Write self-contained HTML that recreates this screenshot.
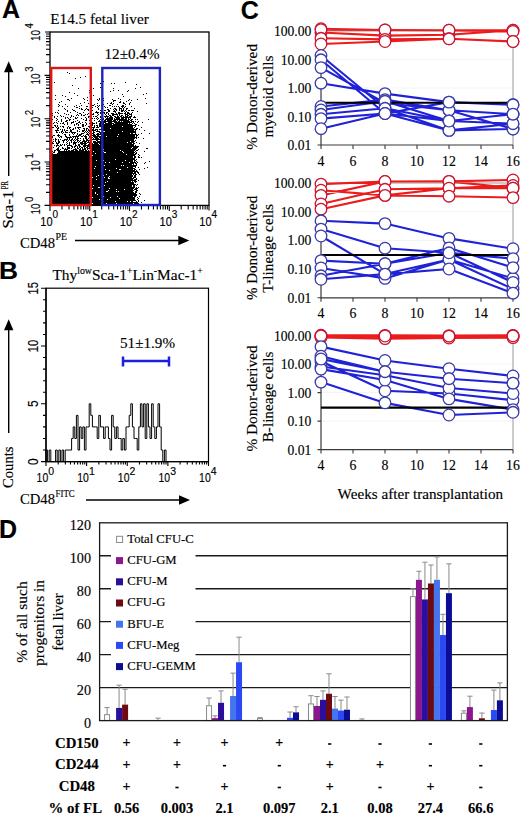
<!DOCTYPE html>
<html><head><meta charset="utf-8"><title>Figure</title>
<style>html,body{margin:0;padding:0;background:#fff;}svg{display:block;}svg text{stroke:#000;stroke-width:0.15px;}</style>
</head><body>
<svg width="520" height="814" viewBox="0 0 520 814" shape-rendering="auto">
<rect x="0" y="0" width="520" height="814" fill="#fff"/>
<text x="1.9" y="17.8" font-size="25" font-family="'Liberation Sans', sans-serif" font-weight="bold" textLength="18" lengthAdjust="spacingAndGlyphs">A</text>
<text x="-1" y="278.8" font-size="24.6" font-family="'Liberation Sans', sans-serif" font-weight="bold" textLength="19" lengthAdjust="spacingAndGlyphs">B</text>
<text x="240.7" y="18.8" font-size="25" font-family="'Liberation Sans', sans-serif" font-weight="bold">C</text>
<text x="-1" y="537.7" font-size="25" font-family="'Liberation Sans', sans-serif" font-weight="bold">D</text>
<text x="50.3" y="23.6" font-size="15.2" font-family="'Liberation Serif', serif" textLength="98.4" lengthAdjust="spacingAndGlyphs">E14.5 fetal liver</text>
<path d="M67 72h1v1h-1zM69 73h1v1h-1zM85 76h1v1h-1zM103 81h1v1h-1zM54 82h1v1h-1zM125 82h1v1h-1zM100 83h1v1h-1zM111 83h1v1h-1zM114 83h1v1h-1zM136 84h1v1h-1zM91 86h1v1h-1zM100 87h1v1h-1zM140 87h1v1h-1zM78 88h1v1h-1zM93 88h1v1h-1zM113 88h1v1h-1zM135 88h1v1h-1zM89 90h1v1h-1zM113 90h1v1h-1zM118 90h1v1h-1zM110 91h1v1h-1zM127 91h1v1h-1zM69 92h1v1h-1zM89 92h1v1h-1zM74 93h1v1h-1zM146 93h1v1h-1zM122 94h1v1h-1zM143 94h1v1h-1zM55 95h1v1h-1zM62 95h1v1h-1zM77 95h1v1h-1zM93 95h1v1h-1zM51 96h1v1h-1zM65 96h1v1h-1zM123 96h1v1h-1zM87 97h1v1h-1zM71 98h1v1h-1zM83 98h1v1h-1zM90 98h1v1h-1zM99 98h1v1h-1zM103 98h1v1h-1zM118 98h1v1h-1zM145 98h1v1h-1zM55 99h1v1h-1zM67 99h2v1h-2zM84 99h1v1h-1zM91 99h1v1h-1zM97 99h1v1h-1zM99 99h1v1h-1zM112 99h1v1h-1zM120 99h1v1h-1zM129 99h1v1h-1zM137 99h1v1h-1zM69 100h1v1h-1zM87 100h1v1h-1zM98 100h1v1h-1zM103 100h1v1h-1zM113 100h3v1h-3zM128 100h1v1h-1zM131 100h1v1h-1zM61 101h1v1h-1zM91 101h1v1h-1zM113 101h1v1h-1zM120 101h1v1h-1zM126 101h1v1h-1zM59 102h1v1h-1zM84 102h1v1h-1zM111 102h1v1h-1zM119 102h2v1h-2zM123 102h1v1h-1zM130 102h1v1h-1zM80 103h1v1h-1zM88 103h1v1h-1zM91 103h1v1h-1zM97 103h1v1h-1zM107 103h1v1h-1zM110 103h2v1h-2zM113 103h1v1h-1zM123 103h2v1h-2zM129 103h1v1h-1zM146 103h1v1h-1zM58 104h1v1h-1zM65 104h1v1h-1zM94 104h1v1h-1zM103 104h1v1h-1zM112 104h1v1h-1zM117 104h1v1h-1zM125 104h1v1h-1zM129 104h1v1h-1zM51 105h1v1h-1zM59 105h1v1h-1zM76 105h1v1h-1zM81 105h1v1h-1zM92 105h2v1h-2zM97 105h1v1h-1zM99 105h1v1h-1zM101 105h2v1h-2zM109 105h2v1h-2zM122 105h2v1h-2zM51 106h1v1h-1zM58 106h1v1h-1zM62 106h1v1h-1zM67 106h1v1h-1zM74 106h1v1h-1zM79 106h1v1h-1zM86 106h2v1h-2zM95 106h1v1h-1zM98 106h1v1h-1zM104 106h1v1h-1zM112 106h1v1h-1zM114 106h1v1h-1zM116 106h1v1h-1zM118 106h1v1h-1zM121 106h3v1h-3zM125 106h1v1h-1zM131 106h1v1h-1zM76 107h2v1h-2zM90 107h3v1h-3zM97 107h1v1h-1zM105 107h1v1h-1zM107 107h1v1h-1zM119 107h1v1h-1zM122 107h1v1h-1zM124 107h1v1h-1zM64 108h1v1h-1zM79 108h1v1h-1zM81 108h1v1h-1zM86 108h1v1h-1zM98 108h1v1h-1zM110 108h1v1h-1zM114 108h2v1h-2zM119 108h3v1h-3zM123 108h1v1h-1zM126 108h2v1h-2zM134 108h1v1h-1zM65 109h1v1h-1zM72 109h1v1h-1zM81 109h2v1h-2zM85 109h1v1h-1zM87 109h2v1h-2zM98 109h1v1h-1zM102 109h1v1h-1zM107 109h2v1h-2zM113 109h1v1h-1zM115 109h2v1h-2zM119 109h1v1h-1zM121 109h1v1h-1zM123 109h1v1h-1zM126 109h1v1h-1zM51 110h1v1h-1zM58 110h1v1h-1zM67 110h1v1h-1zM73 110h2v1h-2zM84 110h1v1h-1zM88 110h1v1h-1zM92 110h1v1h-1zM100 110h1v1h-1zM104 110h2v1h-2zM108 110h2v1h-2zM114 110h1v1h-1zM116 110h1v1h-1zM119 110h1v1h-1zM121 110h3v1h-3zM125 110h1v1h-1zM128 110h2v1h-2zM131 110h3v1h-3zM67 111h1v1h-1zM75 111h1v1h-1zM96 111h1v1h-1zM101 111h2v1h-2zM108 111h2v1h-2zM113 111h3v1h-3zM121 111h2v1h-2zM124 111h1v1h-1zM126 111h1v1h-1zM137 111h1v1h-1zM55 112h1v1h-1zM57 112h1v1h-1zM70 112h1v1h-1zM77 112h1v1h-1zM83 112h1v1h-1zM90 112h1v1h-1zM95 112h4v1h-4zM100 112h1v1h-1zM103 112h2v1h-2zM106 112h2v1h-2zM115 112h1v1h-1zM118 112h2v1h-2zM125 112h1v1h-1zM127 112h2v1h-2zM132 112h1v1h-1zM52 113h1v1h-1zM58 113h1v1h-1zM64 113h1v1h-1zM79 113h2v1h-2zM88 113h1v1h-1zM91 113h1v1h-1zM93 113h1v1h-1zM97 113h1v1h-1zM100 113h1v1h-1zM102 113h1v1h-1zM104 113h1v1h-1zM106 113h1v1h-1zM108 113h1v1h-1zM111 113h3v1h-3zM116 113h1v1h-1zM118 113h5v1h-5zM124 113h2v1h-2zM127 113h3v1h-3zM131 113h1v1h-1zM66 114h1v1h-1zM68 114h1v1h-1zM77 114h1v1h-1zM81 114h1v1h-1zM85 114h1v1h-1zM87 114h1v1h-1zM90 114h1v1h-1zM92 114h2v1h-2zM98 114h1v1h-1zM105 114h1v1h-1zM108 114h1v1h-1zM112 114h6v1h-6zM119 114h1v1h-1zM125 114h3v1h-3zM129 114h3v1h-3zM52 115h1v1h-1zM60 115h1v1h-1zM71 115h1v1h-1zM76 115h1v1h-1zM78 115h1v1h-1zM81 115h1v1h-1zM83 115h2v1h-2zM91 115h1v1h-1zM97 115h1v1h-1zM106 115h1v1h-1zM109 115h2v1h-2zM112 115h2v1h-2zM117 115h1v1h-1zM119 115h1v1h-1zM121 115h2v1h-2zM125 115h1v1h-1zM127 115h2v1h-2zM131 115h1v1h-1zM54 116h1v1h-1zM57 116h1v1h-1zM61 116h1v1h-1zM63 116h1v1h-1zM71 116h1v1h-1zM73 116h1v1h-1zM88 116h2v1h-2zM91 116h1v1h-1zM93 116h1v1h-1zM95 116h2v1h-2zM100 116h1v1h-1zM102 116h1v1h-1zM104 116h5v1h-5zM110 116h2v1h-2zM114 116h2v1h-2zM117 116h2v1h-2zM120 116h2v1h-2zM123 116h1v1h-1zM125 116h3v1h-3zM129 116h3v1h-3zM134 116h1v1h-1zM54 117h1v1h-1zM65 117h1v1h-1zM67 117h1v1h-1zM70 117h1v1h-1zM75 117h1v1h-1zM77 117h1v1h-1zM85 117h1v1h-1zM88 117h1v1h-1zM97 117h1v1h-1zM100 117h2v1h-2zM105 117h1v1h-1zM107 117h1v1h-1zM109 117h4v1h-4zM115 117h5v1h-5zM121 117h10v1h-10zM133 117h3v1h-3zM56 118h1v1h-1zM65 118h1v1h-1zM68 118h1v1h-1zM75 118h2v1h-2zM81 118h1v1h-1zM86 118h1v1h-1zM91 118h2v1h-2zM94 118h1v1h-1zM96 118h1v1h-1zM98 118h1v1h-1zM103 118h1v1h-1zM106 118h7v1h-7zM114 118h1v1h-1zM116 118h4v1h-4zM121 118h3v1h-3zM125 118h2v1h-2zM128 118h1v1h-1zM130 118h1v1h-1zM52 119h1v1h-1zM57 119h1v1h-1zM61 119h1v1h-1zM69 119h2v1h-2zM73 119h1v1h-1zM83 119h1v1h-1zM86 119h1v1h-1zM90 119h1v1h-1zM97 119h1v1h-1zM100 119h1v1h-1zM102 119h2v1h-2zM105 119h8v1h-8zM114 119h13v1h-13zM128 119h2v1h-2zM131 119h2v1h-2zM135 119h1v1h-1zM137 119h1v1h-1zM148 119h1v1h-1zM51 120h1v1h-1zM56 120h1v1h-1zM61 120h1v1h-1zM66 120h2v1h-2zM69 120h1v1h-1zM77 120h1v1h-1zM85 120h2v1h-2zM89 120h1v1h-1zM94 120h1v1h-1zM99 120h1v1h-1zM101 120h1v1h-1zM104 120h2v1h-2zM107 120h5v1h-5zM113 120h3v1h-3zM117 120h1v1h-1zM119 120h10v1h-10zM130 120h2v1h-2zM58 121h1v1h-1zM61 121h1v1h-1zM65 121h2v1h-2zM73 121h1v1h-1zM75 121h1v1h-1zM79 121h1v1h-1zM91 121h1v1h-1zM98 121h3v1h-3zM103 121h14v1h-14zM118 121h2v1h-2zM121 121h1v1h-1zM123 121h7v1h-7zM131 121h3v1h-3zM135 121h1v1h-1zM138 121h1v1h-1zM54 122h1v1h-1zM56 122h1v1h-1zM63 122h1v1h-1zM67 122h1v1h-1zM71 122h3v1h-3zM78 122h2v1h-2zM82 122h1v1h-1zM85 122h1v1h-1zM92 122h1v1h-1zM96 122h1v1h-1zM100 122h6v1h-6zM108 122h4v1h-4zM114 122h18v1h-18zM133 122h1v1h-1zM137 122h1v1h-1zM142 122h1v1h-1zM51 123h1v1h-1zM53 123h1v1h-1zM57 123h1v1h-1zM60 123h1v1h-1zM62 123h2v1h-2zM67 123h1v1h-1zM71 123h1v1h-1zM76 123h2v1h-2zM80 123h1v1h-1zM86 123h1v1h-1zM89 123h1v1h-1zM91 123h4v1h-4zM96 123h1v1h-1zM99 123h3v1h-3zM103 123h1v1h-1zM105 123h9v1h-9zM115 123h13v1h-13zM129 123h1v1h-1zM132 123h1v1h-1zM134 123h1v1h-1zM64 124h1v1h-1zM67 124h1v1h-1zM74 124h1v1h-1zM76 124h1v1h-1zM78 124h1v1h-1zM82 124h2v1h-2zM86 124h1v1h-1zM92 124h1v1h-1zM99 124h2v1h-2zM102 124h10v1h-10zM113 124h19v1h-19zM135 124h2v1h-2zM51 125h1v1h-1zM54 125h2v1h-2zM57 125h1v1h-1zM74 125h1v1h-1zM78 125h1v1h-1zM82 125h2v1h-2zM85 125h1v1h-1zM90 125h3v1h-3zM94 125h1v1h-1zM96 125h2v1h-2zM99 125h3v1h-3zM103 125h33v1h-33zM138 125h1v1h-1zM55 126h1v1h-1zM57 126h1v1h-1zM60 126h1v1h-1zM62 126h2v1h-2zM68 126h1v1h-1zM82 126h2v1h-2zM88 126h4v1h-4zM94 126h1v1h-1zM97 126h1v1h-1zM99 126h23v1h-23zM123 126h10v1h-10zM135 126h1v1h-1zM51 127h3v1h-3zM56 127h1v1h-1zM58 127h1v1h-1zM63 127h1v1h-1zM67 127h1v1h-1zM69 127h2v1h-2zM75 127h1v1h-1zM77 127h4v1h-4zM89 127h1v1h-1zM91 127h4v1h-4zM96 127h3v1h-3zM101 127h32v1h-32zM134 127h1v1h-1zM141 127h1v1h-1zM57 128h2v1h-2zM67 128h1v1h-1zM69 128h1v1h-1zM73 128h1v1h-1zM75 128h1v1h-1zM78 128h1v1h-1zM83 128h2v1h-2zM86 128h2v1h-2zM91 128h1v1h-1zM93 128h1v1h-1zM101 128h9v1h-9zM111 128h23v1h-23zM136 128h2v1h-2zM57 129h1v1h-1zM60 129h1v1h-1zM62 129h1v1h-1zM64 129h1v1h-1zM70 129h1v1h-1zM72 129h2v1h-2zM79 129h1v1h-1zM84 129h1v1h-1zM86 129h1v1h-1zM88 129h1v1h-1zM90 129h1v1h-1zM92 129h2v1h-2zM95 129h3v1h-3zM99 129h38v1h-38zM139 129h1v1h-1zM55 130h4v1h-4zM62 130h1v1h-1zM64 130h1v1h-1zM66 130h2v1h-2zM70 130h2v1h-2zM77 130h1v1h-1zM82 130h3v1h-3zM86 130h1v1h-1zM88 130h3v1h-3zM92 130h4v1h-4zM97 130h1v1h-1zM102 130h32v1h-32zM135 130h1v1h-1zM144 130h1v1h-1zM56 131h1v1h-1zM61 131h2v1h-2zM65 131h1v1h-1zM70 131h2v1h-2zM77 131h1v1h-1zM79 131h1v1h-1zM82 131h2v1h-2zM85 131h1v1h-1zM87 131h1v1h-1zM89 131h1v1h-1zM91 131h1v1h-1zM93 131h1v1h-1zM96 131h4v1h-4zM102 131h1v1h-1zM105 131h17v1h-17zM123 131h13v1h-13zM51 132h1v1h-1zM56 132h2v1h-2zM59 132h1v1h-1zM61 132h1v1h-1zM63 132h1v1h-1zM65 132h3v1h-3zM69 132h1v1h-1zM71 132h5v1h-5zM84 132h1v1h-1zM86 132h1v1h-1zM88 132h1v1h-1zM90 132h1v1h-1zM93 132h2v1h-2zM99 132h37v1h-37zM51 133h1v1h-1zM62 133h1v1h-1zM72 133h1v1h-1zM74 133h1v1h-1zM77 133h1v1h-1zM81 133h3v1h-3zM87 133h1v1h-1zM89 133h2v1h-2zM92 133h2v1h-2zM97 133h2v1h-2zM100 133h1v1h-1zM102 133h28v1h-28zM131 133h2v1h-2zM135 133h1v1h-1zM141 133h1v1h-1zM149 133h1v1h-1zM58 134h1v1h-1zM64 134h2v1h-2zM69 134h1v1h-1zM73 134h1v1h-1zM77 134h1v1h-1zM79 134h3v1h-3zM86 134h3v1h-3zM93 134h2v1h-2zM96 134h22v1h-22zM119 134h18v1h-18zM138 134h1v1h-1zM53 135h2v1h-2zM57 135h3v1h-3zM65 135h1v1h-1zM69 135h1v1h-1zM76 135h1v1h-1zM78 135h3v1h-3zM83 135h1v1h-1zM85 135h1v1h-1zM88 135h1v1h-1zM91 135h5v1h-5zM97 135h2v1h-2zM101 135h34v1h-34zM136 135h2v1h-2zM52 136h1v1h-1zM58 136h1v1h-1zM60 136h2v1h-2zM65 136h2v1h-2zM70 136h1v1h-1zM72 136h7v1h-7zM81 136h2v1h-2zM84 136h3v1h-3zM89 136h3v1h-3zM93 136h13v1h-13zM107 136h10v1h-10zM118 136h17v1h-17zM136 136h1v1h-1zM51 137h2v1h-2zM59 137h1v1h-1zM61 137h1v1h-1zM66 137h6v1h-6zM73 137h1v1h-1zM75 137h1v1h-1zM77 137h1v1h-1zM85 137h2v1h-2zM89 137h1v1h-1zM92 137h1v1h-1zM94 137h4v1h-4zM99 137h38v1h-38zM138 137h1v1h-1zM55 138h1v1h-1zM67 138h1v1h-1zM69 138h1v1h-1zM72 138h1v1h-1zM75 138h1v1h-1zM77 138h2v1h-2zM80 138h1v1h-1zM83 138h1v1h-1zM85 138h2v1h-2zM88 138h1v1h-1zM90 138h2v1h-2zM93 138h1v1h-1zM95 138h4v1h-4zM100 138h35v1h-35zM136 138h1v1h-1zM53 139h1v1h-1zM55 139h2v1h-2zM58 139h1v1h-1zM60 139h1v1h-1zM64 139h4v1h-4zM69 139h1v1h-1zM71 139h2v1h-2zM74 139h1v1h-1zM76 139h2v1h-2zM83 139h1v1h-1zM86 139h2v1h-2zM92 139h10v1h-10zM103 139h31v1h-31zM55 140h1v1h-1zM58 140h1v1h-1zM62 140h3v1h-3zM66 140h1v1h-1zM68 140h1v1h-1zM70 140h2v1h-2zM73 140h1v1h-1zM75 140h1v1h-1zM77 140h2v1h-2zM80 140h1v1h-1zM83 140h2v1h-2zM86 140h6v1h-6zM96 140h2v1h-2zM100 140h34v1h-34zM135 140h1v1h-1zM51 141h1v1h-1zM53 141h1v1h-1zM55 141h1v1h-1zM58 141h2v1h-2zM63 141h1v1h-1zM67 141h1v1h-1zM71 141h1v1h-1zM74 141h1v1h-1zM77 141h1v1h-1zM79 141h1v1h-1zM82 141h5v1h-5zM88 141h1v1h-1zM91 141h1v1h-1zM93 141h3v1h-3zM97 141h33v1h-33zM131 141h4v1h-4zM52 142h1v1h-1zM56 142h1v1h-1zM58 142h2v1h-2zM63 142h1v1h-1zM66 142h1v1h-1zM69 142h1v1h-1zM71 142h1v1h-1zM73 142h4v1h-4zM78 142h1v1h-1zM80 142h3v1h-3zM84 142h2v1h-2zM87 142h3v1h-3zM91 142h1v1h-1zM93 142h34v1h-34zM128 142h6v1h-6zM136 142h1v1h-1zM51 143h3v1h-3zM56 143h3v1h-3zM67 143h1v1h-1zM69 143h1v1h-1zM73 143h3v1h-3zM80 143h7v1h-7zM89 143h2v1h-2zM92 143h1v1h-1zM94 143h4v1h-4zM99 143h33v1h-33zM133 143h2v1h-2zM139 143h1v1h-1zM57 144h1v1h-1zM60 144h1v1h-1zM62 144h1v1h-1zM64 144h1v1h-1zM66 144h1v1h-1zM69 144h1v1h-1zM73 144h1v1h-1zM75 144h1v1h-1zM78 144h2v1h-2zM81 144h2v1h-2zM84 144h2v1h-2zM88 144h2v1h-2zM91 144h8v1h-8zM100 144h34v1h-34zM54 145h1v1h-1zM56 145h3v1h-3zM60 145h2v1h-2zM64 145h1v1h-1zM67 145h5v1h-5zM75 145h2v1h-2zM78 145h2v1h-2zM83 145h8v1h-8zM92 145h9v1h-9zM102 145h32v1h-32zM135 145h1v1h-1zM51 146h1v1h-1zM56 146h1v1h-1zM59 146h1v1h-1zM67 146h1v1h-1zM71 146h2v1h-2zM74 146h2v1h-2zM77 146h1v1h-1zM79 146h2v1h-2zM83 146h3v1h-3zM87 146h15v1h-15zM103 146h36v1h-36zM53 147h1v1h-1zM58 147h1v1h-1zM62 147h1v1h-1zM67 147h3v1h-3zM72 147h1v1h-1zM74 147h1v1h-1zM77 147h1v1h-1zM79 147h1v1h-1zM81 147h2v1h-2zM84 147h1v1h-1zM86 147h2v1h-2zM89 147h13v1h-13zM103 147h29v1h-29zM133 147h5v1h-5zM51 148h1v1h-1zM57 148h2v1h-2zM62 148h2v1h-2zM65 148h1v1h-1zM67 148h3v1h-3zM71 148h1v1h-1zM75 148h1v1h-1zM77 148h2v1h-2zM80 148h1v1h-1zM82 148h1v1h-1zM84 148h2v1h-2zM87 148h3v1h-3zM91 148h40v1h-40zM132 148h5v1h-5zM146 148h2v1h-2zM51 149h1v1h-1zM56 149h3v1h-3zM60 149h1v1h-1zM64 149h4v1h-4zM73 149h4v1h-4zM79 149h2v1h-2zM82 149h4v1h-4zM87 149h1v1h-1zM91 149h12v1h-12zM104 149h32v1h-32zM138 149h1v1h-1zM51 150h1v1h-1zM54 150h2v1h-2zM57 150h3v1h-3zM64 150h1v1h-1zM66 150h1v1h-1zM68 150h2v1h-2zM71 150h3v1h-3zM75 150h3v1h-3zM79 150h5v1h-5zM85 150h2v1h-2zM88 150h1v1h-1zM91 150h29v1h-29zM121 150h14v1h-14zM136 150h2v1h-2zM52 151h1v1h-1zM54 151h1v1h-1zM58 151h35v1h-35zM94 151h9v1h-9zM104 151h18v1h-18zM123 151h11v1h-11zM135 151h1v1h-1zM144 151h1v1h-1zM53 152h2v1h-2zM58 152h46v1h-46zM106 152h17v1h-17zM124 152h11v1h-11zM136 152h1v1h-1zM52 153h1v1h-1zM57 153h38v1h-38zM96 153h38v1h-38zM135 153h2v1h-2zM51 154h75v1h-75zM127 154h9v1h-9zM138 154h1v1h-1zM51 155h41v1h-41zM93 155h42v1h-42zM139 155h1v1h-1zM51 156h82v1h-82zM134 156h2v1h-2zM138 156h1v1h-1zM51 157h82v1h-82zM134 157h2v1h-2zM138 157h2v1h-2zM141 157h1v1h-1zM51 158h84v1h-84zM51 159h64v1h-64zM116 159h19v1h-19zM136 159h1v1h-1zM51 160h45v1h-45zM97 160h6v1h-6zM104 160h21v1h-21zM126 160h7v1h-7zM134 160h2v1h-2zM51 161h82v1h-82zM134 161h1v1h-1zM136 161h1v1h-1zM149 161h1v1h-1zM51 162h54v1h-54zM106 162h3v1h-3zM110 162h12v1h-12zM123 162h6v1h-6zM130 162h6v1h-6zM137 162h1v1h-1zM145 162h1v1h-1zM51 163h50v1h-50zM102 163h32v1h-32zM135 163h2v1h-2zM144 163h1v1h-1zM51 164h81v1h-81zM133 164h1v1h-1zM136 164h1v1h-1zM51 165h53v1h-53zM105 165h16v1h-16zM122 165h1v1h-1zM124 165h13v1h-13zM51 166h44v1h-44zM96 166h40v1h-40zM51 167h76v1h-76zM128 167h5v1h-5zM135 167h1v1h-1zM138 167h1v1h-1zM147 167h1v1h-1zM51 168h43v1h-43zM95 168h21v1h-21zM117 168h18v1h-18zM144 168h1v1h-1zM51 169h54v1h-54zM106 169h13v1h-13zM121 169h12v1h-12zM134 169h2v1h-2zM139 169h1v1h-1zM51 170h58v1h-58zM110 170h25v1h-25zM136 170h1v1h-1zM51 171h87v1h-87zM51 172h66v1h-66zM118 172h15v1h-15zM134 172h2v1h-2zM137 172h2v1h-2zM51 173h85v1h-85zM138 173h1v1h-1zM51 174h55v1h-55zM107 174h25v1h-25zM133 174h1v1h-1zM135 174h2v1h-2zM139 174h1v1h-1zM51 175h47v1h-47zM99 175h4v1h-4zM104 175h29v1h-29zM134 175h2v1h-2zM51 176h45v1h-45zM97 176h12v1h-12zM110 176h23v1h-23zM134 176h2v1h-2zM51 177h41v1h-41zM93 177h9v1h-9zM103 177h1v1h-1zM105 177h3v1h-3zM109 177h23v1h-23zM133 177h3v1h-3zM51 178h57v1h-57zM110 178h24v1h-24zM136 178h1v1h-1zM51 179h45v1h-45zM97 179h36v1h-36zM134 179h3v1h-3zM51 180h85v1h-85zM138 180h1v1h-1zM51 181h56v1h-56zM108 181h23v1h-23zM132 181h1v1h-1zM134 181h3v1h-3zM51 182h54v1h-54zM106 182h28v1h-28zM135 182h1v1h-1zM51 183h83v1h-83zM51 184h85v1h-85zM137 184h1v1h-1zM51 185h42v1h-42zM94 185h10v1h-10zM105 185h27v1h-27zM133 185h2v1h-2zM136 185h1v1h-1zM51 186h50v1h-50zM102 186h30v1h-30zM133 186h2v1h-2zM51 187h47v1h-47zM100 187h35v1h-35zM136 187h1v1h-1zM138 187h1v1h-1zM51 188h41v1h-41zM93 188h16v1h-16zM110 188h24v1h-24zM135 188h3v1h-3zM51 189h65v1h-65zM117 189h7v1h-7zM125 189h8v1h-8zM134 189h3v1h-3zM51 190h57v1h-57zM109 190h25v1h-25zM136 190h2v1h-2zM51 191h55v1h-55zM108 191h8v1h-8zM117 191h1v1h-1zM119 191h14v1h-14zM135 191h2v1h-2zM51 192h44v1h-44zM96 192h38v1h-38zM135 192h2v1h-2zM51 193h44v1h-44zM96 193h40v1h-40zM139 193h1v1h-1zM51 194h46v1h-46zM98 194h4v1h-4zM103 194h34v1h-34zM140 194h1v1h-1zM51 195h86v1h-86zM51 196h52v1h-52zM104 196h13v1h-13zM118 196h15v1h-15zM134 196h2v1h-2zM139 196h1v1h-1zM51 197h41v1h-41zM93 197h17v1h-17zM111 197h24v1h-24zM137 197h1v1h-1zM51 198h68v1h-68zM120 198h15v1h-15zM138 198h1v1h-1zM51 199h48v1h-48zM100 199h7v1h-7zM108 199h27v1h-27zM137 199h1v1h-1zM51 200h85v1h-85zM138 200h1v1h-1zM144 200h1v1h-1zM51 201h64v1h-64zM116 201h11v1h-11zM128 201h2v1h-2zM131 201h2v1h-2zM136 201h1v1h-1zM138 201h1v1h-1zM51 202h87v1h-87zM141 202h1v1h-1zM51 203h41v1h-41zM93 203h8v1h-8zM102 203h4v1h-4zM107 203h9v1h-9zM117 203h16v1h-16zM134 203h5v1h-5zM51 204h54v1h-54zM106 204h28v1h-28zM138 204h1v1h-1z" fill="#000"/>
<rect x="75" y="78" width="1" height="1" fill="#000"/>
<rect x="72" y="85" width="1" height="1" fill="#000"/>
<rect x="80" y="77" width="1" height="1" fill="#000"/>
<rect x="143" y="138" width="1" height="1" fill="#000"/>
<rect x="128" y="90" width="1" height="1" fill="#000"/>
<rect x="113" y="90" width="1" height="1" fill="#000"/>
<rect x="50" y="32" width="159" height="173.4" fill="none" stroke="#000" stroke-width="1.3"/>
<path d="M50 205.4v5.5M50 205.4h-5.5M61.97 205.4v4M50 192.35h-4M68.97 205.4v4M50 184.72h-4M73.93 205.4v4M50 179.3h-4M77.78 205.4v4M50 175.1h-4M80.93 205.4v4M50 171.67h-4M83.59 205.4v4M50 168.76h-4M85.9 205.4v4M50 166.25h-4M87.93 205.4v4M50 164.03h-4M89.75 205.4v5.5M50 162.05h-5.5M101.72 205.4v4M50 149h-4M108.72 205.4v4M50 141.37h-4M113.68 205.4v4M50 135.95h-4M117.53 205.4v4M50 131.75h-4M120.68 205.4v4M50 128.32h-4M123.34 205.4v4M50 125.41h-4M125.65 205.4v4M50 122.9h-4M127.68 205.4v4M50 120.68h-4M129.5 205.4v5.5M50 118.7h-5.5M141.47 205.4v4M50 105.65h-4M148.47 205.4v4M50 98.02h-4M153.43 205.4v4M50 92.6h-4M157.28 205.4v4M50 88.4h-4M160.43 205.4v4M50 84.97h-4M163.09 205.4v4M50 82.06h-4M165.4 205.4v4M50 79.55h-4M167.43 205.4v4M50 77.33h-4M169.25 205.4v5.5M50 75.35h-5.5M181.22 205.4v4M50 62.3h-4M188.22 205.4v4M50 54.67h-4M193.18 205.4v4M50 49.25h-4M197.03 205.4v4M50 45.05h-4M200.18 205.4v4M50 41.62h-4M202.84 205.4v4M50 38.71h-4M205.15 205.4v4M50 36.2h-4M207.18 205.4v4M50 33.98h-4M209 205.4v5M50 32h-5" fill="none" stroke="#000" stroke-width="1.1"/>
<rect x="51.2" y="68" width="39.6" height="137" fill="none" stroke="#dc1616" stroke-width="2.4"/>
<rect x="102.3" y="68" width="57.6" height="137" fill="none" stroke="#1c24c0" stroke-width="2.4"/>
<text x="46.4" y="225.5" font-size="12.4" font-family="'Liberation Sans', sans-serif" text-anchor="middle" textLength="12.3" lengthAdjust="spacingAndGlyphs">10</text>
<text x="55.2" y="218.3" font-size="10" font-family="'Liberation Sans', sans-serif" text-anchor="middle">0</text>
<text x="86.15" y="225.5" font-size="12.4" font-family="'Liberation Sans', sans-serif" text-anchor="middle" textLength="12.3" lengthAdjust="spacingAndGlyphs">10</text>
<text x="94.95" y="218.3" font-size="10" font-family="'Liberation Sans', sans-serif" text-anchor="middle">1</text>
<text x="125.9" y="225.5" font-size="12.4" font-family="'Liberation Sans', sans-serif" text-anchor="middle" textLength="12.3" lengthAdjust="spacingAndGlyphs">10</text>
<text x="134.7" y="218.3" font-size="10" font-family="'Liberation Sans', sans-serif" text-anchor="middle">2</text>
<text x="165.65" y="225.5" font-size="12.4" font-family="'Liberation Sans', sans-serif" text-anchor="middle" textLength="12.3" lengthAdjust="spacingAndGlyphs">10</text>
<text x="174.45" y="218.3" font-size="10" font-family="'Liberation Sans', sans-serif" text-anchor="middle">3</text>
<text x="205.4" y="225.5" font-size="12.4" font-family="'Liberation Sans', sans-serif" text-anchor="middle" textLength="12.3" lengthAdjust="spacingAndGlyphs">10</text>
<text x="214.2" y="218.3" font-size="10" font-family="'Liberation Sans', sans-serif" text-anchor="middle">4</text>
<text transform="translate(39.9 209) rotate(-90)" font-size="12.5" font-family="'Liberation Sans', sans-serif" text-anchor="middle" textLength="11" lengthAdjust="spacingAndGlyphs">10</text>
<text transform="translate(32.7 199.2) rotate(-90)" font-size="11.5" font-family="'Liberation Sans', sans-serif" text-anchor="middle" textLength="5.4" lengthAdjust="spacingAndGlyphs">0</text>
<text transform="translate(39.9 165.65) rotate(-90)" font-size="12.5" font-family="'Liberation Sans', sans-serif" text-anchor="middle" textLength="11" lengthAdjust="spacingAndGlyphs">10</text>
<text transform="translate(32.7 155.85) rotate(-90)" font-size="11.5" font-family="'Liberation Sans', sans-serif" text-anchor="middle" textLength="5.4" lengthAdjust="spacingAndGlyphs">1</text>
<text transform="translate(39.9 122.3) rotate(-90)" font-size="12.5" font-family="'Liberation Sans', sans-serif" text-anchor="middle" textLength="11" lengthAdjust="spacingAndGlyphs">10</text>
<text transform="translate(32.7 112.5) rotate(-90)" font-size="11.5" font-family="'Liberation Sans', sans-serif" text-anchor="middle" textLength="5.4" lengthAdjust="spacingAndGlyphs">2</text>
<text transform="translate(39.9 78.95) rotate(-90)" font-size="12.5" font-family="'Liberation Sans', sans-serif" text-anchor="middle" textLength="11" lengthAdjust="spacingAndGlyphs">10</text>
<text transform="translate(32.7 69.15) rotate(-90)" font-size="11.5" font-family="'Liberation Sans', sans-serif" text-anchor="middle" textLength="5.4" lengthAdjust="spacingAndGlyphs">3</text>
<text transform="translate(39.9 35.6) rotate(-90)" font-size="12.5" font-family="'Liberation Sans', sans-serif" text-anchor="middle" textLength="11" lengthAdjust="spacingAndGlyphs">10</text>
<text transform="translate(32.7 25.8) rotate(-90)" font-size="11.5" font-family="'Liberation Sans', sans-serif" text-anchor="middle" textLength="5.4" lengthAdjust="spacingAndGlyphs">4</text>
<text transform="translate(12.9 228.6) rotate(-90)" font-size="15" font-family="'Liberation Serif', serif" textLength="38" lengthAdjust="spacingAndGlyphs">Sca-1</text>
<text transform="translate(7.6 189.5) rotate(-90)" font-size="9.5" font-family="'Liberation Serif', serif" textLength="8.5" lengthAdjust="spacingAndGlyphs">PR</text>
<line x1="8.7" y1="176" x2="8.7" y2="69.2" stroke="#000" stroke-width="1.4"/>
<path d="M8.7 61.2L4 72.2L13.4 72.2Z" fill="#000"/>
<text x="20" y="247.5" font-size="15" font-family="'Liberation Serif', serif" textLength="35" lengthAdjust="spacingAndGlyphs">CD48</text>
<text x="55.6" y="240" font-size="9.5" font-family="'Liberation Serif', serif" textLength="11.5" lengthAdjust="spacingAndGlyphs">PE</text>
<line x1="75" y1="240.5" x2="181.3" y2="240.5" stroke="#000" stroke-width="1.4"/>
<path d="M189.3 240.5L178.3 235.8L178.3 245.2Z" fill="#000"/>
<text x="104.5" y="59.2" font-size="15" font-family="'Liberation Serif', serif" textLength="55" lengthAdjust="spacingAndGlyphs">12±0.4%</text>
<text x="52.4" y="279.8" font-size="15.4" font-family="'Liberation Serif', serif">Thy<tspan font-size="9.8" dy="-5.5">low</tspan><tspan dy="5.5">Sca-1</tspan><tspan font-size="9.8" dy="-5.5">+</tspan><tspan dy="5.5">Lin</tspan><tspan font-size="9.8" dy="-5.5">-</tspan><tspan dy="5.5">Mac-1</tspan><tspan font-size="9.8" dy="-5.5">+</tspan></text>
<path d="M46.3 461.6H46V450.04H47.6V461.6H49.2V450.04H50.8V461.6H52.4V461.6H54V461.6H55.6V450.04H57.2V461.6H58.8V450.04H60.4V461.6H62V450.04H63.6V461.6H65.2V450.04H66.8V450.04H68.4V450.04H70V450.04H71.6V438.48H73.2V426.92H74.8V438.48H76.4V415.36H78V450.04H79.6V426.92H81.2V438.48H82.8V426.92H84.4V450.04H86V426.92H87.6V426.92H89.2V403.8H90.8V415.36H92.4V426.92H94V426.92H95.6V426.92H97.2V438.48H98.8V415.36H100.4V426.92H102V426.92H103.6V438.48H105.2V426.92H106.8V426.92H108.4V438.48H110V450.04H111.6V415.36H113.2V426.92H114.8V438.48H116.4V426.92H118V438.48H119.6V438.48H121.2V450.04H122.8V438.48H124.4V450.04H126V426.92H127.6V426.92H129.2V415.36H130.8V403.8H132.4V426.92H134V438.48H135.6V438.48H137.2V450.04H138.8V426.92H140.4V403.8H142V426.92H143.6V403.8H145.2V438.48H146.8V403.8H148.4V426.92H150V438.48H151.6V403.8H153.2V426.92H154.8V438.48H156.4V426.92H158V403.8H159.6V426.92H161.2V450.04H162.8V461.6H164.4V450.04H166V461.6H167.6V461.6" fill="none" stroke="#000" stroke-width="1"/>
<path d="M46 288.2V461.6H208.5" fill="none" stroke="#000" stroke-width="1.3"/>
<rect x="46" y="288.2" width="162.5" height="173.4" fill="none" stroke="#000" stroke-width="1.2"/>
<path d="M46 461.6v4.5M58.23 461.6v2.8M65.38 461.6v2.8M70.46 461.6v2.8M74.4 461.6v2.8M77.61 461.6v2.8M80.33 461.6v2.8M82.69 461.6v2.8M84.77 461.6v2.8M86.62 461.6v4.5M98.85 461.6v2.8M106.01 461.6v2.8M111.08 461.6v2.8M115.02 461.6v2.8M118.24 461.6v2.8M120.96 461.6v2.8M123.31 461.6v2.8M125.39 461.6v2.8M127.25 461.6v4.5M139.48 461.6v2.8M146.63 461.6v2.8M151.71 461.6v2.8M155.65 461.6v2.8M158.86 461.6v2.8M161.58 461.6v2.8M163.94 461.6v2.8M166.02 461.6v2.8M167.88 461.6v4.5M180.1 461.6v2.8M187.26 461.6v2.8M192.33 461.6v2.8M196.27 461.6v2.8M199.49 461.6v2.8M202.21 461.6v2.8M204.56 461.6v2.8M206.64 461.6v2.8M208.5 461.6v4.5M46 461.6h-5M46 450.04h-3M46 438.48h-3M46 426.92h-3M46 415.36h-3M46 403.8h-5M46 392.24h-3M46 380.68h-3M46 369.12h-3M46 357.56h-3M46 346h-5M46 334.44h-3M46 322.88h-3M46 311.32h-3M46 299.76h-3M46 288.2h-5" fill="none" stroke="#000" stroke-width="1.1"/>
<text x="42.4" y="482" font-size="12.8" font-family="'Liberation Sans', sans-serif" text-anchor="middle" textLength="11.6" lengthAdjust="spacingAndGlyphs">10</text>
<text x="51.2" y="475.2" font-size="10.5" font-family="'Liberation Sans', sans-serif" text-anchor="middle">0</text>
<text x="83.03" y="482" font-size="12.8" font-family="'Liberation Sans', sans-serif" text-anchor="middle" textLength="11.6" lengthAdjust="spacingAndGlyphs">10</text>
<text x="91.83" y="475.2" font-size="10.5" font-family="'Liberation Sans', sans-serif" text-anchor="middle">1</text>
<text x="123.65" y="482" font-size="12.8" font-family="'Liberation Sans', sans-serif" text-anchor="middle" textLength="11.6" lengthAdjust="spacingAndGlyphs">10</text>
<text x="132.45" y="475.2" font-size="10.5" font-family="'Liberation Sans', sans-serif" text-anchor="middle">2</text>
<text x="164.28" y="482" font-size="12.8" font-family="'Liberation Sans', sans-serif" text-anchor="middle" textLength="11.6" lengthAdjust="spacingAndGlyphs">10</text>
<text x="173.07" y="475.2" font-size="10.5" font-family="'Liberation Sans', sans-serif" text-anchor="middle">3</text>
<text x="204.9" y="482" font-size="12.8" font-family="'Liberation Sans', sans-serif" text-anchor="middle" textLength="11.6" lengthAdjust="spacingAndGlyphs">10</text>
<text x="213.7" y="475.2" font-size="10.5" font-family="'Liberation Sans', sans-serif" text-anchor="middle">4</text>
<text transform="translate(37.5 461.6) rotate(-90)" font-size="14.5" font-family="'Liberation Sans', sans-serif" text-anchor="middle" textLength="6.6" lengthAdjust="spacingAndGlyphs">0</text>
<text transform="translate(37.5 403.8) rotate(-90)" font-size="14.5" font-family="'Liberation Sans', sans-serif" text-anchor="middle" textLength="6.6" lengthAdjust="spacingAndGlyphs">5</text>
<text transform="translate(37.5 346) rotate(-90)" font-size="14.5" font-family="'Liberation Sans', sans-serif" text-anchor="middle" textLength="12.4" lengthAdjust="spacingAndGlyphs">10</text>
<text transform="translate(37.5 288.2) rotate(-90)" font-size="14.5" font-family="'Liberation Sans', sans-serif" text-anchor="middle" textLength="12.4" lengthAdjust="spacingAndGlyphs">15</text>
<text x="120" y="347.6" font-size="15" font-family="'Liberation Serif', serif" textLength="55" lengthAdjust="spacingAndGlyphs">51±1.9%</text>
<path d="M123 361H169M123 356.5V366.5M169 356.5V366.5" fill="none" stroke="#1c1ee0" stroke-width="2.5"/>
<text transform="translate(12.8 488) rotate(-90)" font-size="15" font-family="'Liberation Serif', serif" textLength="41.5" lengthAdjust="spacingAndGlyphs">Counts</text>
<line x1="8.7" y1="433" x2="8.7" y2="327.3" stroke="#000" stroke-width="1.4"/>
<path d="M8.7 319.3L4 330.3L13.4 330.3Z" fill="#000"/>
<text x="20" y="503.9" font-size="15" font-family="'Liberation Serif', serif" textLength="35" lengthAdjust="spacingAndGlyphs">CD48</text>
<text x="55.6" y="496.5" font-size="9.5" font-family="'Liberation Serif', serif" textLength="19" lengthAdjust="spacingAndGlyphs">FITC</text>
<line x1="86" y1="500" x2="182" y2="500" stroke="#000" stroke-width="1.4"/>
<path d="M190 500L179 495.3L179 504.7Z" fill="#000"/>
<line x1="321" y1="116.5" x2="513" y2="116.5" stroke="#f0f0f0" stroke-width="0.8"/>
<line x1="321" y1="88" x2="513" y2="88" stroke="#f0f0f0" stroke-width="0.8"/>
<line x1="321" y1="59.5" x2="513" y2="59.5" stroke="#f0f0f0" stroke-width="0.8"/>
<path d="M321 31H513V145" fill="none" stroke="#9a9a9a" stroke-width="1"/>
<path d="M321 31V145H513" fill="none" stroke="#3a3a3a" stroke-width="1.2"/>
<path d="M321 145h-3.5M321 116.5h-3.5M321 88h-3.5M321 59.5h-3.5M321 31h-3.5M321 145v4M353 145v4M385 145v4M417 145v4M449 145v4M481 145v4M513 145v4" fill="none" stroke="#3a3a3a" stroke-width="1.1"/>
<text x="311.3" y="150" font-size="13.6" font-family="'Liberation Serif', serif" text-anchor="end">0.01</text>
<text x="311.3" y="121.5" font-size="13.6" font-family="'Liberation Serif', serif" text-anchor="end">0.10</text>
<text x="311.3" y="93" font-size="13.6" font-family="'Liberation Serif', serif" text-anchor="end">1.00</text>
<text x="311.3" y="64.5" font-size="13.6" font-family="'Liberation Serif', serif" text-anchor="end">10.00</text>
<text x="311.3" y="36" font-size="13.6" font-family="'Liberation Serif', serif" text-anchor="end">100.00</text>
<text x="321" y="165.6" font-size="13.8" font-family="'Liberation Serif', serif" text-anchor="middle">4</text>
<text x="353" y="165.6" font-size="13.8" font-family="'Liberation Serif', serif" text-anchor="middle">6</text>
<text x="385" y="165.6" font-size="13.8" font-family="'Liberation Serif', serif" text-anchor="middle">8</text>
<text x="417" y="165.6" font-size="13.8" font-family="'Liberation Serif', serif" text-anchor="middle">10</text>
<text x="449" y="165.6" font-size="13.8" font-family="'Liberation Serif', serif" text-anchor="middle">12</text>
<text x="481" y="165.6" font-size="13.8" font-family="'Liberation Serif', serif" text-anchor="middle">14</text>
<text x="513" y="165.6" font-size="13.8" font-family="'Liberation Serif', serif" text-anchor="middle">16</text>
<text transform="translate(256.7 149.8) rotate(-90)" font-size="15.5" font-family="'Liberation Serif', serif" textLength="105.8" lengthAdjust="spacingAndGlyphs">% Donor-derived</text>
<text transform="translate(272.8 137.6) rotate(-90)" font-size="15.3" font-family="'Liberation Serif', serif" textLength="82" lengthAdjust="spacingAndGlyphs">myeloid cells</text>
<path d="M321 28.7L385 30L449 30.2L513 30.2M321 32.5L385 35.6L449 34.8L513 30.2M321 29.6L385 30L449 30.2L513 31.5M321 38.3L385 39.4L449 38.8L513 41.5M321 44L385 41.5L449 38.8L513 41.5" fill="none" stroke="#ec1c1c" stroke-width="2.1" stroke-linejoin="round"/>
<path d="M321 55.5L385 108.3L449 121L513 123.7M321 59.8L385 113.5L449 130.4L513 129M321 67.6L385 103L449 110.2L513 114.2M321 83.2L385 93.6L449 102.1L513 104.8M321 106.5L385 99.6L449 110.2L513 129M321 110L385 101.3L449 121L513 114.2M321 114.3L385 108.3L449 130.4L513 123.7M321 118.6L385 113.5L449 102.1L513 104.8M321 128.7L385 113.5L449 121L513 114.2" fill="none" stroke="#2022d8" stroke-width="2.1" stroke-linejoin="round"/>
<line x1="321" y1="102.7" x2="513" y2="102.7" stroke="#000" stroke-width="2.1"/>
<circle cx="321" cy="28.7" r="5.8" fill="#fff" stroke="#cc1430" stroke-width="1.3"/>
<circle cx="385" cy="30" r="5.8" fill="#fff" stroke="#cc1430" stroke-width="1.3"/>
<circle cx="449" cy="30.2" r="5.8" fill="#fff" stroke="#cc1430" stroke-width="1.3"/>
<circle cx="513" cy="30.2" r="5.8" fill="#fff" stroke="#cc1430" stroke-width="1.3"/>
<circle cx="321" cy="32.5" r="5.8" fill="#fff" stroke="#cc1430" stroke-width="1.3"/>
<circle cx="385" cy="35.6" r="5.8" fill="#fff" stroke="#cc1430" stroke-width="1.3"/>
<circle cx="449" cy="34.8" r="5.8" fill="#fff" stroke="#cc1430" stroke-width="1.3"/>
<circle cx="513" cy="30.2" r="5.8" fill="#fff" stroke="#cc1430" stroke-width="1.3"/>
<circle cx="321" cy="29.6" r="5.8" fill="#fff" stroke="#cc1430" stroke-width="1.3"/>
<circle cx="385" cy="30" r="5.8" fill="#fff" stroke="#cc1430" stroke-width="1.3"/>
<circle cx="449" cy="30.2" r="5.8" fill="#fff" stroke="#cc1430" stroke-width="1.3"/>
<circle cx="513" cy="31.5" r="5.8" fill="#fff" stroke="#cc1430" stroke-width="1.3"/>
<circle cx="321" cy="38.3" r="5.8" fill="#fff" stroke="#cc1430" stroke-width="1.3"/>
<circle cx="385" cy="39.4" r="5.8" fill="#fff" stroke="#cc1430" stroke-width="1.3"/>
<circle cx="449" cy="38.8" r="5.8" fill="#fff" stroke="#cc1430" stroke-width="1.3"/>
<circle cx="513" cy="41.5" r="5.8" fill="#fff" stroke="#cc1430" stroke-width="1.3"/>
<circle cx="321" cy="44" r="5.8" fill="#fff" stroke="#cc1430" stroke-width="1.3"/>
<circle cx="385" cy="41.5" r="5.8" fill="#fff" stroke="#cc1430" stroke-width="1.3"/>
<circle cx="449" cy="38.8" r="5.8" fill="#fff" stroke="#cc1430" stroke-width="1.3"/>
<circle cx="513" cy="41.5" r="5.8" fill="#fff" stroke="#cc1430" stroke-width="1.3"/>
<circle cx="321" cy="55.5" r="5.8" fill="#fff" stroke="#3a3ca8" stroke-width="1.3"/>
<circle cx="385" cy="108.3" r="5.8" fill="#fff" stroke="#3a3ca8" stroke-width="1.3"/>
<circle cx="449" cy="121" r="5.8" fill="#fff" stroke="#3a3ca8" stroke-width="1.3"/>
<circle cx="513" cy="123.7" r="5.8" fill="#fff" stroke="#3a3ca8" stroke-width="1.3"/>
<circle cx="321" cy="59.8" r="5.8" fill="#fff" stroke="#3a3ca8" stroke-width="1.3"/>
<circle cx="385" cy="113.5" r="5.8" fill="#fff" stroke="#3a3ca8" stroke-width="1.3"/>
<circle cx="449" cy="130.4" r="5.8" fill="#fff" stroke="#3a3ca8" stroke-width="1.3"/>
<circle cx="513" cy="129" r="5.8" fill="#fff" stroke="#3a3ca8" stroke-width="1.3"/>
<circle cx="321" cy="67.6" r="5.8" fill="#fff" stroke="#3a3ca8" stroke-width="1.3"/>
<circle cx="385" cy="103" r="5.8" fill="#fff" stroke="#3a3ca8" stroke-width="1.3"/>
<circle cx="449" cy="110.2" r="5.8" fill="#fff" stroke="#3a3ca8" stroke-width="1.3"/>
<circle cx="513" cy="114.2" r="5.8" fill="#fff" stroke="#3a3ca8" stroke-width="1.3"/>
<circle cx="321" cy="83.2" r="5.8" fill="#fff" stroke="#3a3ca8" stroke-width="1.3"/>
<circle cx="385" cy="93.6" r="5.8" fill="#fff" stroke="#3a3ca8" stroke-width="1.3"/>
<circle cx="449" cy="102.1" r="5.8" fill="#fff" stroke="#3a3ca8" stroke-width="1.3"/>
<circle cx="513" cy="104.8" r="5.8" fill="#fff" stroke="#3a3ca8" stroke-width="1.3"/>
<circle cx="321" cy="106.5" r="5.8" fill="#fff" stroke="#3a3ca8" stroke-width="1.3"/>
<circle cx="385" cy="99.6" r="5.8" fill="#fff" stroke="#3a3ca8" stroke-width="1.3"/>
<circle cx="449" cy="110.2" r="5.8" fill="#fff" stroke="#3a3ca8" stroke-width="1.3"/>
<circle cx="513" cy="129" r="5.8" fill="#fff" stroke="#3a3ca8" stroke-width="1.3"/>
<circle cx="321" cy="110" r="5.8" fill="#fff" stroke="#3a3ca8" stroke-width="1.3"/>
<circle cx="385" cy="101.3" r="5.8" fill="#fff" stroke="#3a3ca8" stroke-width="1.3"/>
<circle cx="449" cy="121" r="5.8" fill="#fff" stroke="#3a3ca8" stroke-width="1.3"/>
<circle cx="513" cy="114.2" r="5.8" fill="#fff" stroke="#3a3ca8" stroke-width="1.3"/>
<circle cx="321" cy="114.3" r="5.8" fill="#fff" stroke="#3a3ca8" stroke-width="1.3"/>
<circle cx="385" cy="108.3" r="5.8" fill="#fff" stroke="#3a3ca8" stroke-width="1.3"/>
<circle cx="449" cy="130.4" r="5.8" fill="#fff" stroke="#3a3ca8" stroke-width="1.3"/>
<circle cx="513" cy="123.7" r="5.8" fill="#fff" stroke="#3a3ca8" stroke-width="1.3"/>
<circle cx="321" cy="118.6" r="5.8" fill="#fff" stroke="#3a3ca8" stroke-width="1.3"/>
<circle cx="385" cy="113.5" r="5.8" fill="#fff" stroke="#3a3ca8" stroke-width="1.3"/>
<circle cx="449" cy="102.1" r="5.8" fill="#fff" stroke="#3a3ca8" stroke-width="1.3"/>
<circle cx="513" cy="104.8" r="5.8" fill="#fff" stroke="#3a3ca8" stroke-width="1.3"/>
<circle cx="321" cy="128.7" r="5.8" fill="#fff" stroke="#3a3ca8" stroke-width="1.3"/>
<circle cx="385" cy="113.5" r="5.8" fill="#fff" stroke="#3a3ca8" stroke-width="1.3"/>
<circle cx="449" cy="121" r="5.8" fill="#fff" stroke="#3a3ca8" stroke-width="1.3"/>
<circle cx="513" cy="114.2" r="5.8" fill="#fff" stroke="#3a3ca8" stroke-width="1.3"/>
<line x1="321" y1="269.1" x2="513" y2="269.1" stroke="#f0f0f0" stroke-width="0.8"/>
<line x1="321" y1="240.4" x2="513" y2="240.4" stroke="#f0f0f0" stroke-width="0.8"/>
<line x1="321" y1="211.7" x2="513" y2="211.7" stroke="#f0f0f0" stroke-width="0.8"/>
<path d="M321 183H513V297.8" fill="none" stroke="#9a9a9a" stroke-width="1"/>
<path d="M321 183V297.8H513" fill="none" stroke="#3a3a3a" stroke-width="1.2"/>
<path d="M321 297.8h-3.5M321 269.1h-3.5M321 240.4h-3.5M321 211.7h-3.5M321 183h-3.5M321 297.8v4M353 297.8v4M385 297.8v4M417 297.8v4M449 297.8v4M481 297.8v4M513 297.8v4" fill="none" stroke="#3a3a3a" stroke-width="1.1"/>
<text x="311.3" y="302.8" font-size="13.6" font-family="'Liberation Serif', serif" text-anchor="end">0.01</text>
<text x="311.3" y="274.1" font-size="13.6" font-family="'Liberation Serif', serif" text-anchor="end">0.10</text>
<text x="311.3" y="245.4" font-size="13.6" font-family="'Liberation Serif', serif" text-anchor="end">1.00</text>
<text x="311.3" y="216.7" font-size="13.6" font-family="'Liberation Serif', serif" text-anchor="end">10.00</text>
<text x="311.3" y="188" font-size="13.6" font-family="'Liberation Serif', serif" text-anchor="end">100.00</text>
<text x="321" y="318.4" font-size="13.8" font-family="'Liberation Serif', serif" text-anchor="middle">4</text>
<text x="353" y="318.4" font-size="13.8" font-family="'Liberation Serif', serif" text-anchor="middle">6</text>
<text x="385" y="318.4" font-size="13.8" font-family="'Liberation Serif', serif" text-anchor="middle">8</text>
<text x="417" y="318.4" font-size="13.8" font-family="'Liberation Serif', serif" text-anchor="middle">10</text>
<text x="449" y="318.4" font-size="13.8" font-family="'Liberation Serif', serif" text-anchor="middle">12</text>
<text x="481" y="318.4" font-size="13.8" font-family="'Liberation Serif', serif" text-anchor="middle">14</text>
<text x="513" y="318.4" font-size="13.8" font-family="'Liberation Serif', serif" text-anchor="middle">16</text>
<text transform="translate(256.7 300) rotate(-90)" font-size="15.5" font-family="'Liberation Serif', serif" textLength="104.2" lengthAdjust="spacingAndGlyphs">% Donor-derived</text>
<text transform="translate(272.8 292.65) rotate(-90)" font-size="15.3" font-family="'Liberation Serif', serif" textLength="88.7" lengthAdjust="spacingAndGlyphs">T-lineage cells</text>
<path d="M321 184.1L385 181.5L449 181.4L513 180M321 190.2L385 195.4L449 188.2L513 185.5M321 195.4L385 181.5L449 181.4L513 188.2M321 204L385 189.3L449 188.2L513 188.2M321 209.2L385 195.4L449 196.2L513 197.6" fill="none" stroke="#ec1c1c" stroke-width="2.1" stroke-linejoin="round"/>
<path d="M321 220.8L385 223.6L449 238.4L513 248.7M321 229.1L385 248.2L449 252.8L513 258.7M321 236L385 274.1L449 259.5L513 278.4M321 260.6L385 263.7L449 247.9L513 267.6M321 268L385 278.4L449 259.5L513 289.1M321 275.8L385 263.7L449 252.8L513 282.4M321 279.3L385 274.1L449 269L513 293.2" fill="none" stroke="#2022d8" stroke-width="2.1" stroke-linejoin="round"/>
<line x1="321" y1="255" x2="513" y2="255" stroke="#000" stroke-width="2.1"/>
<circle cx="321" cy="184.1" r="5.8" fill="#fff" stroke="#cc1430" stroke-width="1.3"/>
<circle cx="385" cy="181.5" r="5.8" fill="#fff" stroke="#cc1430" stroke-width="1.3"/>
<circle cx="449" cy="181.4" r="5.8" fill="#fff" stroke="#cc1430" stroke-width="1.3"/>
<circle cx="513" cy="180" r="5.8" fill="#fff" stroke="#cc1430" stroke-width="1.3"/>
<circle cx="321" cy="190.2" r="5.8" fill="#fff" stroke="#cc1430" stroke-width="1.3"/>
<circle cx="385" cy="195.4" r="5.8" fill="#fff" stroke="#cc1430" stroke-width="1.3"/>
<circle cx="449" cy="188.2" r="5.8" fill="#fff" stroke="#cc1430" stroke-width="1.3"/>
<circle cx="513" cy="185.5" r="5.8" fill="#fff" stroke="#cc1430" stroke-width="1.3"/>
<circle cx="321" cy="195.4" r="5.8" fill="#fff" stroke="#cc1430" stroke-width="1.3"/>
<circle cx="385" cy="181.5" r="5.8" fill="#fff" stroke="#cc1430" stroke-width="1.3"/>
<circle cx="449" cy="181.4" r="5.8" fill="#fff" stroke="#cc1430" stroke-width="1.3"/>
<circle cx="513" cy="188.2" r="5.8" fill="#fff" stroke="#cc1430" stroke-width="1.3"/>
<circle cx="321" cy="204" r="5.8" fill="#fff" stroke="#cc1430" stroke-width="1.3"/>
<circle cx="385" cy="189.3" r="5.8" fill="#fff" stroke="#cc1430" stroke-width="1.3"/>
<circle cx="449" cy="188.2" r="5.8" fill="#fff" stroke="#cc1430" stroke-width="1.3"/>
<circle cx="513" cy="188.2" r="5.8" fill="#fff" stroke="#cc1430" stroke-width="1.3"/>
<circle cx="321" cy="209.2" r="5.8" fill="#fff" stroke="#cc1430" stroke-width="1.3"/>
<circle cx="385" cy="195.4" r="5.8" fill="#fff" stroke="#cc1430" stroke-width="1.3"/>
<circle cx="449" cy="196.2" r="5.8" fill="#fff" stroke="#cc1430" stroke-width="1.3"/>
<circle cx="513" cy="197.6" r="5.8" fill="#fff" stroke="#cc1430" stroke-width="1.3"/>
<circle cx="321" cy="220.8" r="5.8" fill="#fff" stroke="#3a3ca8" stroke-width="1.3"/>
<circle cx="385" cy="223.6" r="5.8" fill="#fff" stroke="#3a3ca8" stroke-width="1.3"/>
<circle cx="449" cy="238.4" r="5.8" fill="#fff" stroke="#3a3ca8" stroke-width="1.3"/>
<circle cx="513" cy="248.7" r="5.8" fill="#fff" stroke="#3a3ca8" stroke-width="1.3"/>
<circle cx="321" cy="229.1" r="5.8" fill="#fff" stroke="#3a3ca8" stroke-width="1.3"/>
<circle cx="385" cy="248.2" r="5.8" fill="#fff" stroke="#3a3ca8" stroke-width="1.3"/>
<circle cx="449" cy="252.8" r="5.8" fill="#fff" stroke="#3a3ca8" stroke-width="1.3"/>
<circle cx="513" cy="258.7" r="5.8" fill="#fff" stroke="#3a3ca8" stroke-width="1.3"/>
<circle cx="321" cy="236" r="5.8" fill="#fff" stroke="#3a3ca8" stroke-width="1.3"/>
<circle cx="385" cy="274.1" r="5.8" fill="#fff" stroke="#3a3ca8" stroke-width="1.3"/>
<circle cx="449" cy="259.5" r="5.8" fill="#fff" stroke="#3a3ca8" stroke-width="1.3"/>
<circle cx="513" cy="278.4" r="5.8" fill="#fff" stroke="#3a3ca8" stroke-width="1.3"/>
<circle cx="321" cy="260.6" r="5.8" fill="#fff" stroke="#3a3ca8" stroke-width="1.3"/>
<circle cx="385" cy="263.7" r="5.8" fill="#fff" stroke="#3a3ca8" stroke-width="1.3"/>
<circle cx="449" cy="247.9" r="5.8" fill="#fff" stroke="#3a3ca8" stroke-width="1.3"/>
<circle cx="513" cy="267.6" r="5.8" fill="#fff" stroke="#3a3ca8" stroke-width="1.3"/>
<circle cx="321" cy="268" r="5.8" fill="#fff" stroke="#3a3ca8" stroke-width="1.3"/>
<circle cx="385" cy="278.4" r="5.8" fill="#fff" stroke="#3a3ca8" stroke-width="1.3"/>
<circle cx="449" cy="259.5" r="5.8" fill="#fff" stroke="#3a3ca8" stroke-width="1.3"/>
<circle cx="513" cy="289.1" r="5.8" fill="#fff" stroke="#3a3ca8" stroke-width="1.3"/>
<circle cx="321" cy="275.8" r="5.8" fill="#fff" stroke="#3a3ca8" stroke-width="1.3"/>
<circle cx="385" cy="263.7" r="5.8" fill="#fff" stroke="#3a3ca8" stroke-width="1.3"/>
<circle cx="449" cy="252.8" r="5.8" fill="#fff" stroke="#3a3ca8" stroke-width="1.3"/>
<circle cx="513" cy="282.4" r="5.8" fill="#fff" stroke="#3a3ca8" stroke-width="1.3"/>
<circle cx="321" cy="279.3" r="5.8" fill="#fff" stroke="#3a3ca8" stroke-width="1.3"/>
<circle cx="385" cy="274.1" r="5.8" fill="#fff" stroke="#3a3ca8" stroke-width="1.3"/>
<circle cx="449" cy="269" r="5.8" fill="#fff" stroke="#3a3ca8" stroke-width="1.3"/>
<circle cx="513" cy="293.2" r="5.8" fill="#fff" stroke="#3a3ca8" stroke-width="1.3"/>
<line x1="321" y1="421.1" x2="513" y2="421.1" stroke="#f0f0f0" stroke-width="0.8"/>
<line x1="321" y1="392.6" x2="513" y2="392.6" stroke="#f0f0f0" stroke-width="0.8"/>
<line x1="321" y1="364.1" x2="513" y2="364.1" stroke="#f0f0f0" stroke-width="0.8"/>
<path d="M321 335.6H513V449.6" fill="none" stroke="#9a9a9a" stroke-width="1"/>
<path d="M321 335.6V449.6H513" fill="none" stroke="#3a3a3a" stroke-width="1.2"/>
<path d="M321 449.6h-3.5M321 421.1h-3.5M321 392.6h-3.5M321 364.1h-3.5M321 335.6h-3.5M321 449.6v4M353 449.6v4M385 449.6v4M417 449.6v4M449 449.6v4M481 449.6v4M513 449.6v4" fill="none" stroke="#3a3a3a" stroke-width="1.1"/>
<text x="311.3" y="454.6" font-size="13.6" font-family="'Liberation Serif', serif" text-anchor="end">0.01</text>
<text x="311.3" y="426.1" font-size="13.6" font-family="'Liberation Serif', serif" text-anchor="end">0.10</text>
<text x="311.3" y="397.6" font-size="13.6" font-family="'Liberation Serif', serif" text-anchor="end">1.00</text>
<text x="311.3" y="369.1" font-size="13.6" font-family="'Liberation Serif', serif" text-anchor="end">10.00</text>
<text x="311.3" y="340.6" font-size="13.6" font-family="'Liberation Serif', serif" text-anchor="end">100.00</text>
<text x="321" y="470.2" font-size="13.8" font-family="'Liberation Serif', serif" text-anchor="middle">4</text>
<text x="353" y="470.2" font-size="13.8" font-family="'Liberation Serif', serif" text-anchor="middle">6</text>
<text x="385" y="470.2" font-size="13.8" font-family="'Liberation Serif', serif" text-anchor="middle">8</text>
<text x="417" y="470.2" font-size="13.8" font-family="'Liberation Serif', serif" text-anchor="middle">10</text>
<text x="449" y="470.2" font-size="13.8" font-family="'Liberation Serif', serif" text-anchor="middle">12</text>
<text x="481" y="470.2" font-size="13.8" font-family="'Liberation Serif', serif" text-anchor="middle">14</text>
<text x="513" y="470.2" font-size="13.8" font-family="'Liberation Serif', serif" text-anchor="middle">16</text>
<text transform="translate(256.7 451.5) rotate(-90)" font-size="15.5" font-family="'Liberation Serif', serif" textLength="106.1" lengthAdjust="spacingAndGlyphs">% Donor-derived</text>
<text transform="translate(272.8 442.3) rotate(-90)" font-size="15.3" font-family="'Liberation Serif', serif" textLength="90.8" lengthAdjust="spacingAndGlyphs">B-lineage cells</text>
<path d="M321 335.2L385 335.4L449 335.6L513 335.4M321 336L385 336.2L449 336.6L513 336M321 336.8L385 337.4L449 337.2L513 336.8M321 337.4L385 338.6L449 338L513 337.6M321 335.8L385 336L449 336.2L513 335.8" fill="none" stroke="#ec1c1c" stroke-width="2.1" stroke-linejoin="round"/>
<path d="M321 346.6L385 360.5L449 368.7L513 376M321 356.2L385 371.7L449 378.7L513 383.2M321 361.3L385 390.8L449 393.5L513 400.2M321 366.5L385 375.2L449 388L513 393.5M321 369.1L385 380L449 398.9L513 409.6M321 382.1L385 402.9L449 415L513 412.3M321 359L385 371.7L449 378.7L513 383.2" fill="none" stroke="#2022d8" stroke-width="2.1" stroke-linejoin="round"/>
<line x1="321" y1="407.6" x2="513" y2="407.6" stroke="#000" stroke-width="2.1"/>
<circle cx="321" cy="335.2" r="5.8" fill="#fff" stroke="#cc1430" stroke-width="1.3"/>
<circle cx="385" cy="335.4" r="5.8" fill="#fff" stroke="#cc1430" stroke-width="1.3"/>
<circle cx="449" cy="335.6" r="5.8" fill="#fff" stroke="#cc1430" stroke-width="1.3"/>
<circle cx="513" cy="335.4" r="5.8" fill="#fff" stroke="#cc1430" stroke-width="1.3"/>
<circle cx="321" cy="336" r="5.8" fill="#fff" stroke="#cc1430" stroke-width="1.3"/>
<circle cx="385" cy="336.2" r="5.8" fill="#fff" stroke="#cc1430" stroke-width="1.3"/>
<circle cx="449" cy="336.6" r="5.8" fill="#fff" stroke="#cc1430" stroke-width="1.3"/>
<circle cx="513" cy="336" r="5.8" fill="#fff" stroke="#cc1430" stroke-width="1.3"/>
<circle cx="321" cy="336.8" r="5.8" fill="#fff" stroke="#cc1430" stroke-width="1.3"/>
<circle cx="385" cy="337.4" r="5.8" fill="#fff" stroke="#cc1430" stroke-width="1.3"/>
<circle cx="449" cy="337.2" r="5.8" fill="#fff" stroke="#cc1430" stroke-width="1.3"/>
<circle cx="513" cy="336.8" r="5.8" fill="#fff" stroke="#cc1430" stroke-width="1.3"/>
<circle cx="321" cy="337.4" r="5.8" fill="#fff" stroke="#cc1430" stroke-width="1.3"/>
<circle cx="385" cy="338.6" r="5.8" fill="#fff" stroke="#cc1430" stroke-width="1.3"/>
<circle cx="449" cy="338" r="5.8" fill="#fff" stroke="#cc1430" stroke-width="1.3"/>
<circle cx="513" cy="337.6" r="5.8" fill="#fff" stroke="#cc1430" stroke-width="1.3"/>
<circle cx="321" cy="335.8" r="5.8" fill="#fff" stroke="#cc1430" stroke-width="1.3"/>
<circle cx="385" cy="336" r="5.8" fill="#fff" stroke="#cc1430" stroke-width="1.3"/>
<circle cx="449" cy="336.2" r="5.8" fill="#fff" stroke="#cc1430" stroke-width="1.3"/>
<circle cx="513" cy="335.8" r="5.8" fill="#fff" stroke="#cc1430" stroke-width="1.3"/>
<circle cx="321" cy="346.6" r="5.8" fill="#fff" stroke="#3a3ca8" stroke-width="1.3"/>
<circle cx="385" cy="360.5" r="5.8" fill="#fff" stroke="#3a3ca8" stroke-width="1.3"/>
<circle cx="449" cy="368.7" r="5.8" fill="#fff" stroke="#3a3ca8" stroke-width="1.3"/>
<circle cx="513" cy="376" r="5.8" fill="#fff" stroke="#3a3ca8" stroke-width="1.3"/>
<circle cx="321" cy="356.2" r="5.8" fill="#fff" stroke="#3a3ca8" stroke-width="1.3"/>
<circle cx="385" cy="371.7" r="5.8" fill="#fff" stroke="#3a3ca8" stroke-width="1.3"/>
<circle cx="449" cy="378.7" r="5.8" fill="#fff" stroke="#3a3ca8" stroke-width="1.3"/>
<circle cx="513" cy="383.2" r="5.8" fill="#fff" stroke="#3a3ca8" stroke-width="1.3"/>
<circle cx="321" cy="361.3" r="5.8" fill="#fff" stroke="#3a3ca8" stroke-width="1.3"/>
<circle cx="385" cy="390.8" r="5.8" fill="#fff" stroke="#3a3ca8" stroke-width="1.3"/>
<circle cx="449" cy="393.5" r="5.8" fill="#fff" stroke="#3a3ca8" stroke-width="1.3"/>
<circle cx="513" cy="400.2" r="5.8" fill="#fff" stroke="#3a3ca8" stroke-width="1.3"/>
<circle cx="321" cy="366.5" r="5.8" fill="#fff" stroke="#3a3ca8" stroke-width="1.3"/>
<circle cx="385" cy="375.2" r="5.8" fill="#fff" stroke="#3a3ca8" stroke-width="1.3"/>
<circle cx="449" cy="388" r="5.8" fill="#fff" stroke="#3a3ca8" stroke-width="1.3"/>
<circle cx="513" cy="393.5" r="5.8" fill="#fff" stroke="#3a3ca8" stroke-width="1.3"/>
<circle cx="321" cy="369.1" r="5.8" fill="#fff" stroke="#3a3ca8" stroke-width="1.3"/>
<circle cx="385" cy="380" r="5.8" fill="#fff" stroke="#3a3ca8" stroke-width="1.3"/>
<circle cx="449" cy="398.9" r="5.8" fill="#fff" stroke="#3a3ca8" stroke-width="1.3"/>
<circle cx="513" cy="409.6" r="5.8" fill="#fff" stroke="#3a3ca8" stroke-width="1.3"/>
<circle cx="321" cy="382.1" r="5.8" fill="#fff" stroke="#3a3ca8" stroke-width="1.3"/>
<circle cx="385" cy="402.9" r="5.8" fill="#fff" stroke="#3a3ca8" stroke-width="1.3"/>
<circle cx="449" cy="415" r="5.8" fill="#fff" stroke="#3a3ca8" stroke-width="1.3"/>
<circle cx="513" cy="412.3" r="5.8" fill="#fff" stroke="#3a3ca8" stroke-width="1.3"/>
<circle cx="321" cy="359" r="5.8" fill="#fff" stroke="#3a3ca8" stroke-width="1.3"/>
<circle cx="385" cy="371.7" r="5.8" fill="#fff" stroke="#3a3ca8" stroke-width="1.3"/>
<circle cx="449" cy="378.7" r="5.8" fill="#fff" stroke="#3a3ca8" stroke-width="1.3"/>
<circle cx="513" cy="383.2" r="5.8" fill="#fff" stroke="#3a3ca8" stroke-width="1.3"/>
<text x="337.6" y="499.2" font-size="15.2" font-family="'Liberation Serif', serif" textLength="165.5" lengthAdjust="spacingAndGlyphs">Weeks after transplantation</text>
<path d="M99.6 687.63H507.4M99.6 654.67H507.4M99.6 621.7H507.4M99.6 588.73H507.4M99.6 555.77H507.4" fill="none" stroke="#1a1a1a" stroke-width="1.3"/>
<rect x="111" y="527" width="84.5" height="150" fill="#fff"/>
<path d="M107.09 714.67V707.58M104.49 707.58H109.69" fill="none" stroke="#8a8a8a" stroke-width="1"/>
<rect x="104.59" y="714.67" width="5" height="5.93" fill="#fff" stroke="#8a8a8a" stroke-width="1"/>
<path d="M119.09 707.91V685.16M116.49 685.16H121.69" fill="none" stroke="#8a8a8a" stroke-width="1"/>
<rect x="116.09" y="707.91" width="6" height="12.69" fill="#2c0e9c"/>
<path d="M125.09 704.61V689.28M122.49 689.28H127.69" fill="none" stroke="#8a8a8a" stroke-width="1"/>
<rect x="122.09" y="704.61" width="6" height="15.99" fill="#6b0a12"/>
<path d="M158.06 720.6V718.13M155.46 718.13H160.66" fill="none" stroke="#8a8a8a" stroke-width="1"/>
<path d="M209.04 705.76V698.02M206.44 698.02H211.64" fill="none" stroke="#8a8a8a" stroke-width="1"/>
<rect x="206.54" y="705.76" width="5" height="14.84" fill="#fff" stroke="#8a8a8a" stroke-width="1"/>
<path d="M215.04 718.13V715.82M212.44 715.82H217.64" fill="none" stroke="#8a8a8a" stroke-width="1"/>
<rect x="212.04" y="718.13" width="6" height="2.47" fill="#8b168d"/>
<path d="M221.04 702.8V690.93M218.44 690.93H223.64" fill="none" stroke="#8a8a8a" stroke-width="1"/>
<rect x="218.04" y="702.8" width="6" height="17.8" fill="#2c0e9c"/>
<path d="M233.04 696.04V673.13M230.44 673.13H235.64" fill="none" stroke="#8a8a8a" stroke-width="1"/>
<rect x="230.04" y="696.04" width="6" height="24.56" fill="#4474ee"/>
<path d="M239.04 662.25V637.19M236.44 637.19H241.64" fill="none" stroke="#8a8a8a" stroke-width="1"/>
<rect x="236.04" y="662.25" width="6" height="58.35" fill="#2a48f4"/>
<path d="M260.01 718.62V717.63M257.41 717.63H262.61" fill="none" stroke="#8a8a8a" stroke-width="1"/>
<rect x="257.51" y="718.62" width="5" height="1.98" fill="#fff" stroke="#8a8a8a" stroke-width="1"/>
<path d="M290.01 717.8V712.03M287.41 712.03H292.61" fill="none" stroke="#8a8a8a" stroke-width="1"/>
<rect x="287.01" y="717.8" width="6" height="2.8" fill="#2a48f4"/>
<path d="M296.01 712.36V706.75M293.41 706.75H298.61" fill="none" stroke="#8a8a8a" stroke-width="1"/>
<rect x="293.01" y="712.36" width="6" height="8.24" fill="#0c0c94"/>
<path d="M310.99 703.95V695.71M308.39 695.71H313.59" fill="none" stroke="#8a8a8a" stroke-width="1"/>
<rect x="308.49" y="703.95" width="5" height="16.65" fill="#fff" stroke="#8a8a8a" stroke-width="1"/>
<path d="M316.99 705.93V696.53M314.39 696.53H319.59" fill="none" stroke="#8a8a8a" stroke-width="1"/>
<rect x="313.99" y="705.93" width="6" height="14.67" fill="#8b168d"/>
<path d="M322.99 699.83V690.93M320.39 690.93H325.59" fill="none" stroke="#8a8a8a" stroke-width="1"/>
<rect x="319.99" y="699.83" width="6" height="20.77" fill="#2c0e9c"/>
<path d="M328.99 693.73V673.79M326.39 673.79H331.59" fill="none" stroke="#8a8a8a" stroke-width="1"/>
<rect x="325.99" y="693.73" width="6" height="26.87" fill="#6b0a12"/>
<path d="M334.99 708.57V696.53M332.39 696.53H337.59" fill="none" stroke="#8a8a8a" stroke-width="1"/>
<rect x="331.99" y="708.57" width="6" height="12.03" fill="#4474ee"/>
<path d="M340.99 710.55V700.16M338.39 700.16H343.59" fill="none" stroke="#8a8a8a" stroke-width="1"/>
<rect x="337.99" y="710.55" width="6" height="10.05" fill="#2a48f4"/>
<path d="M346.99 709.72V697.03M344.39 697.03H349.59" fill="none" stroke="#8a8a8a" stroke-width="1"/>
<rect x="343.99" y="709.72" width="6" height="10.88" fill="#0c0c94"/>
<path d="M361.96 720.6V718.95M359.36 718.95H364.56" fill="none" stroke="#8a8a8a" stroke-width="1"/>
<path d="M412.94 596.65V588.73M410.34 588.73H415.54" fill="none" stroke="#8a8a8a" stroke-width="1"/>
<rect x="410.44" y="596.65" width="5" height="123.95" fill="#fff" stroke="#8a8a8a" stroke-width="1"/>
<path d="M418.94 579.83V571.26M416.34 571.26H421.54" fill="none" stroke="#8a8a8a" stroke-width="1"/>
<rect x="415.94" y="579.83" width="6" height="140.77" fill="#8b168d"/>
<path d="M424.94 599.45V562.2M422.34 562.2H427.54" fill="none" stroke="#8a8a8a" stroke-width="1"/>
<rect x="421.94" y="599.45" width="6" height="121.15" fill="#2c0e9c"/>
<path d="M430.94 583.46V565M428.34 565H433.54" fill="none" stroke="#8a8a8a" stroke-width="1"/>
<rect x="427.94" y="583.46" width="6" height="137.14" fill="#6b0a12"/>
<path d="M436.94 579.83V556.92M434.34 556.92H439.54" fill="none" stroke="#8a8a8a" stroke-width="1"/>
<rect x="433.94" y="579.83" width="6" height="140.77" fill="#4474ee"/>
<path d="M442.94 635.05V614.28M440.34 614.28H445.54" fill="none" stroke="#8a8a8a" stroke-width="1"/>
<rect x="439.94" y="635.05" width="6" height="85.55" fill="#2a48f4"/>
<path d="M448.94 593.18V563.84M446.34 563.84H451.54" fill="none" stroke="#8a8a8a" stroke-width="1"/>
<rect x="445.94" y="593.18" width="6" height="127.42" fill="#0c0c94"/>
<path d="M463.91 713.18V710.87M461.31 710.87H466.51" fill="none" stroke="#8a8a8a" stroke-width="1"/>
<rect x="461.41" y="713.18" width="5" height="7.42" fill="#fff" stroke="#8a8a8a" stroke-width="1"/>
<path d="M469.91 707.08V696.2M467.31 696.2H472.51" fill="none" stroke="#8a8a8a" stroke-width="1"/>
<rect x="466.91" y="707.08" width="6" height="13.52" fill="#8b168d"/>
<path d="M481.91 718.29V713.02M479.31 713.02H484.51" fill="none" stroke="#8a8a8a" stroke-width="1"/>
<rect x="478.91" y="718.29" width="6" height="2.31" fill="#6b0a12"/>
<path d="M493.91 710.05V690.11M491.31 690.11H496.51" fill="none" stroke="#8a8a8a" stroke-width="1"/>
<rect x="490.91" y="710.05" width="6" height="10.55" fill="#2a48f4"/>
<path d="M499.91 700.33V682.85M497.31 682.85H502.51" fill="none" stroke="#8a8a8a" stroke-width="1"/>
<rect x="496.91" y="700.33" width="6" height="20.27" fill="#0c0c94"/>
<rect x="99.6" y="522.8" width="407.8" height="197.8" fill="none" stroke="#1a1a1a" stroke-width="1.3"/>
<text x="91" y="728.2" font-size="14.2" font-family="'Liberation Serif', serif" text-anchor="end">0</text>
<text x="91" y="695.23" font-size="14.2" font-family="'Liberation Serif', serif" text-anchor="end">20</text>
<text x="91" y="662.27" font-size="14.2" font-family="'Liberation Serif', serif" text-anchor="end">40</text>
<text x="91" y="629.3" font-size="14.2" font-family="'Liberation Serif', serif" text-anchor="end">60</text>
<text x="91" y="596.33" font-size="14.2" font-family="'Liberation Serif', serif" text-anchor="end">80</text>
<text x="91" y="563.37" font-size="14.2" font-family="'Liberation Serif', serif" text-anchor="end">100</text>
<text x="91" y="530.4" font-size="14.2" font-family="'Liberation Serif', serif" text-anchor="end">120</text>
<text transform="translate(27.4 622) rotate(-90)" font-size="15.4" font-family="'Liberation Serif', serif" text-anchor="middle" textLength="81.5" lengthAdjust="spacingAndGlyphs">% of all such</text>
<text transform="translate(44 623) rotate(-90)" font-size="15.4" font-family="'Liberation Serif', serif" text-anchor="middle" textLength="86" lengthAdjust="spacingAndGlyphs">progenitors in</text>
<text transform="translate(62.7 622) rotate(-90)" font-size="15.4" font-family="'Liberation Serif', serif" text-anchor="middle" textLength="57.5" lengthAdjust="spacingAndGlyphs">fetal liver</text>
<rect x="116.6" y="536.3" width="6" height="6.2" fill="#fff" stroke="#8a8a8a" stroke-width="1"/>
<text x="127.3" y="542.8" font-size="12.7" font-family="'Liberation Serif', serif">Total CFU-C</text>
<rect x="116" y="557.1" width="7" height="7" fill="#8b168d"/>
<text x="127.3" y="564" font-size="12.7" font-family="'Liberation Serif', serif">CFU-GM</text>
<rect x="116" y="578.3" width="7" height="7" fill="#2c0e9c"/>
<text x="127.3" y="585.2" font-size="12.7" font-family="'Liberation Serif', serif">CFU-M</text>
<rect x="116" y="599.5" width="7" height="7" fill="#6b0a12"/>
<text x="127.3" y="606.4" font-size="12.7" font-family="'Liberation Serif', serif">CFU-G</text>
<rect x="116" y="620.7" width="7" height="7" fill="#4474ee"/>
<text x="127.3" y="627.6" font-size="12.7" font-family="'Liberation Serif', serif">BFU-E</text>
<rect x="116" y="641.9" width="7" height="7" fill="#2a48f4"/>
<text x="127.3" y="648.8" font-size="12.7" font-family="'Liberation Serif', serif">CFU-Meg</text>
<rect x="116" y="663.1" width="7" height="7" fill="#0c0c94"/>
<text x="127.3" y="670" font-size="12.7" font-family="'Liberation Serif', serif">CFU-GEMM</text>
<text x="76.8" y="747.7" font-size="14.8" font-family="'Liberation Serif', serif" text-anchor="middle" font-weight="bold">CD150</text>
<text x="126.6" y="747.3" font-size="14" font-family="'Liberation Serif', serif" text-anchor="middle" font-weight="bold">+</text>
<text x="177" y="747.3" font-size="14" font-family="'Liberation Serif', serif" text-anchor="middle" font-weight="bold">+</text>
<text x="224.5" y="747.3" font-size="14" font-family="'Liberation Serif', serif" text-anchor="middle" font-weight="bold">+</text>
<text x="279.3" y="747.3" font-size="14" font-family="'Liberation Serif', serif" text-anchor="middle" font-weight="bold">+</text>
<rect x="328.1" y="743.2" width="3.2" height="1.6" fill="#000"/>
<rect x="378.4" y="743.2" width="3.2" height="1.6" fill="#000"/>
<rect x="428.8" y="743.2" width="3.2" height="1.6" fill="#000"/>
<rect x="479.2" y="743.2" width="3.2" height="1.6" fill="#000"/>
<text x="76.8" y="769.4" font-size="14.8" font-family="'Liberation Serif', serif" text-anchor="middle" font-weight="bold">CD244</text>
<text x="126.6" y="769" font-size="14" font-family="'Liberation Serif', serif" text-anchor="middle" font-weight="bold">+</text>
<text x="177" y="769" font-size="14" font-family="'Liberation Serif', serif" text-anchor="middle" font-weight="bold">+</text>
<rect x="222.9" y="764.9" width="3.2" height="1.6" fill="#000"/>
<rect x="277.7" y="764.9" width="3.2" height="1.6" fill="#000"/>
<text x="329.7" y="769" font-size="14" font-family="'Liberation Serif', serif" text-anchor="middle" font-weight="bold">+</text>
<text x="380" y="769" font-size="14" font-family="'Liberation Serif', serif" text-anchor="middle" font-weight="bold">+</text>
<rect x="428.8" y="764.9" width="3.2" height="1.6" fill="#000"/>
<rect x="479.2" y="764.9" width="3.2" height="1.6" fill="#000"/>
<text x="76.8" y="791.2" font-size="14.8" font-family="'Liberation Serif', serif" text-anchor="middle" font-weight="bold">CD48</text>
<text x="126.6" y="790.8" font-size="14" font-family="'Liberation Serif', serif" text-anchor="middle" font-weight="bold">+</text>
<rect x="175.4" y="786.7" width="3.2" height="1.6" fill="#000"/>
<text x="224.5" y="790.8" font-size="14" font-family="'Liberation Serif', serif" text-anchor="middle" font-weight="bold">+</text>
<rect x="277.7" y="786.7" width="3.2" height="1.6" fill="#000"/>
<text x="329.7" y="790.8" font-size="14" font-family="'Liberation Serif', serif" text-anchor="middle" font-weight="bold">+</text>
<rect x="378.4" y="786.7" width="3.2" height="1.6" fill="#000"/>
<text x="430.4" y="790.8" font-size="14" font-family="'Liberation Serif', serif" text-anchor="middle" font-weight="bold">+</text>
<rect x="479.2" y="786.7" width="3.2" height="1.6" fill="#000"/>
<text x="75.3" y="812.7" font-size="14.8" font-family="'Liberation Serif', serif" text-anchor="middle" font-weight="bold">% of FL</text>
<text x="126.6" y="812.5" font-size="14.5" font-family="'Liberation Serif', serif" text-anchor="middle" font-weight="bold">0.56</text>
<text x="177" y="812.5" font-size="14.5" font-family="'Liberation Serif', serif" text-anchor="middle" font-weight="bold">0.003</text>
<text x="224.5" y="812.5" font-size="14.5" font-family="'Liberation Serif', serif" text-anchor="middle" font-weight="bold">2.1</text>
<text x="279.3" y="812.5" font-size="14.5" font-family="'Liberation Serif', serif" text-anchor="middle" font-weight="bold">0.097</text>
<text x="329.7" y="812.5" font-size="14.5" font-family="'Liberation Serif', serif" text-anchor="middle" font-weight="bold">2.1</text>
<text x="380" y="812.5" font-size="14.5" font-family="'Liberation Serif', serif" text-anchor="middle" font-weight="bold">0.08</text>
<text x="430.4" y="812.5" font-size="14.5" font-family="'Liberation Serif', serif" text-anchor="middle" font-weight="bold">27.4</text>
<text x="480.8" y="812.5" font-size="14.5" font-family="'Liberation Serif', serif" text-anchor="middle" font-weight="bold">66.6</text>
</svg>
</body></html>
